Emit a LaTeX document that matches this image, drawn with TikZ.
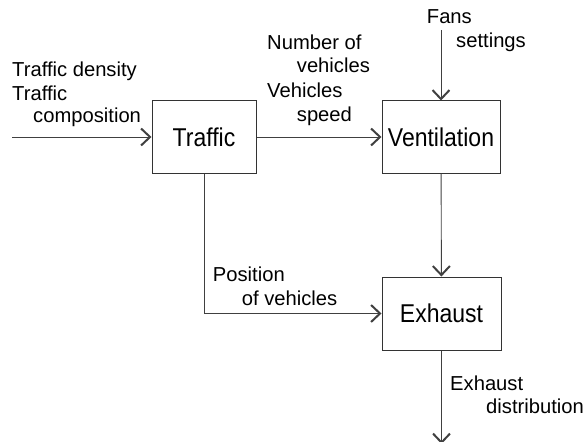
\documentclass[tikz,border=0pt]{standalone}
\usepackage{fontspec}
\setmainfont{Liberation Sans}
\usetikzlibrary{arrows.meta}
\begin{document}
\begin{tikzpicture}[x=1pt,y=-1pt,
  box/.style={draw=black!80,line width=1pt,fill=white,inner sep=0pt,font=\fontsize{23}{27}\selectfont},
  lbl/.style={anchor=base west,inner sep=0pt,font=\fontsize{20.2}{23.5}\selectfont},
  arr/.style={draw=black!75,line width=0.9pt,-{Straight Barb[length=9pt,width=17pt,line width=2pt]}}]
\useasboundingbox (0,0) rectangle (588,441);
% boxes
\node[box,minimum width=104pt,minimum height=72pt] (traffic) at (204,137) {\scalebox{1}[1.12]{Traffic}};
\node[box,minimum width=118pt,minimum height=72pt] (vent) at (441,137) {\scalebox{1}[1.12]{Ventilation}};
\node[box,minimum width=119pt,minimum height=73pt] (exh) at (441.5,313.5) {\scalebox{1}[1.12]{Exhaust}};
% free ends
\coordinate (in) at (12,137);
\coordinate (fans) at (441,30);
\coordinate (out) at (441.5,444);
% connectors
\draw[arr] (in) -- (traffic);
\draw[arr] (traffic) -- (vent);
\draw[arr] (fans) -- (vent);
\draw[arr] (vent) -- (exh);
\draw[arr] (traffic.south) |- (exh.west);
\draw[arr] (exh) -- (out);
% labels
\node[lbl] (l1) at (12,76.7) {Traffic density};
\node[lbl] (l2) at (12,100) {Traffic};
\node[lbl] (l3) at (33,122.7) {composition};
\node[lbl] (l4) at (426.7,24) {Fans};
\node[lbl] (l5) at (456,48) {settings};
\node[lbl] (l6) at (267,50) {Number of};
\node[lbl] (l7) at (296.7,73) {vehicles};
\node[lbl] (l8) at (267,97.7) {Vehicles};
\node[lbl] (l9) at (296.7,121.7) {speed};
\node[lbl] (l10) at (212.7,281.7) {Position};
\node[lbl] (l11) at (241.7,305) {of vehicles};
\node[lbl] (l12) at (450,390) {Exhaust};
\node[lbl] (l13) at (486,413.3) {distribution};
\end{tikzpicture}
\end{document}
